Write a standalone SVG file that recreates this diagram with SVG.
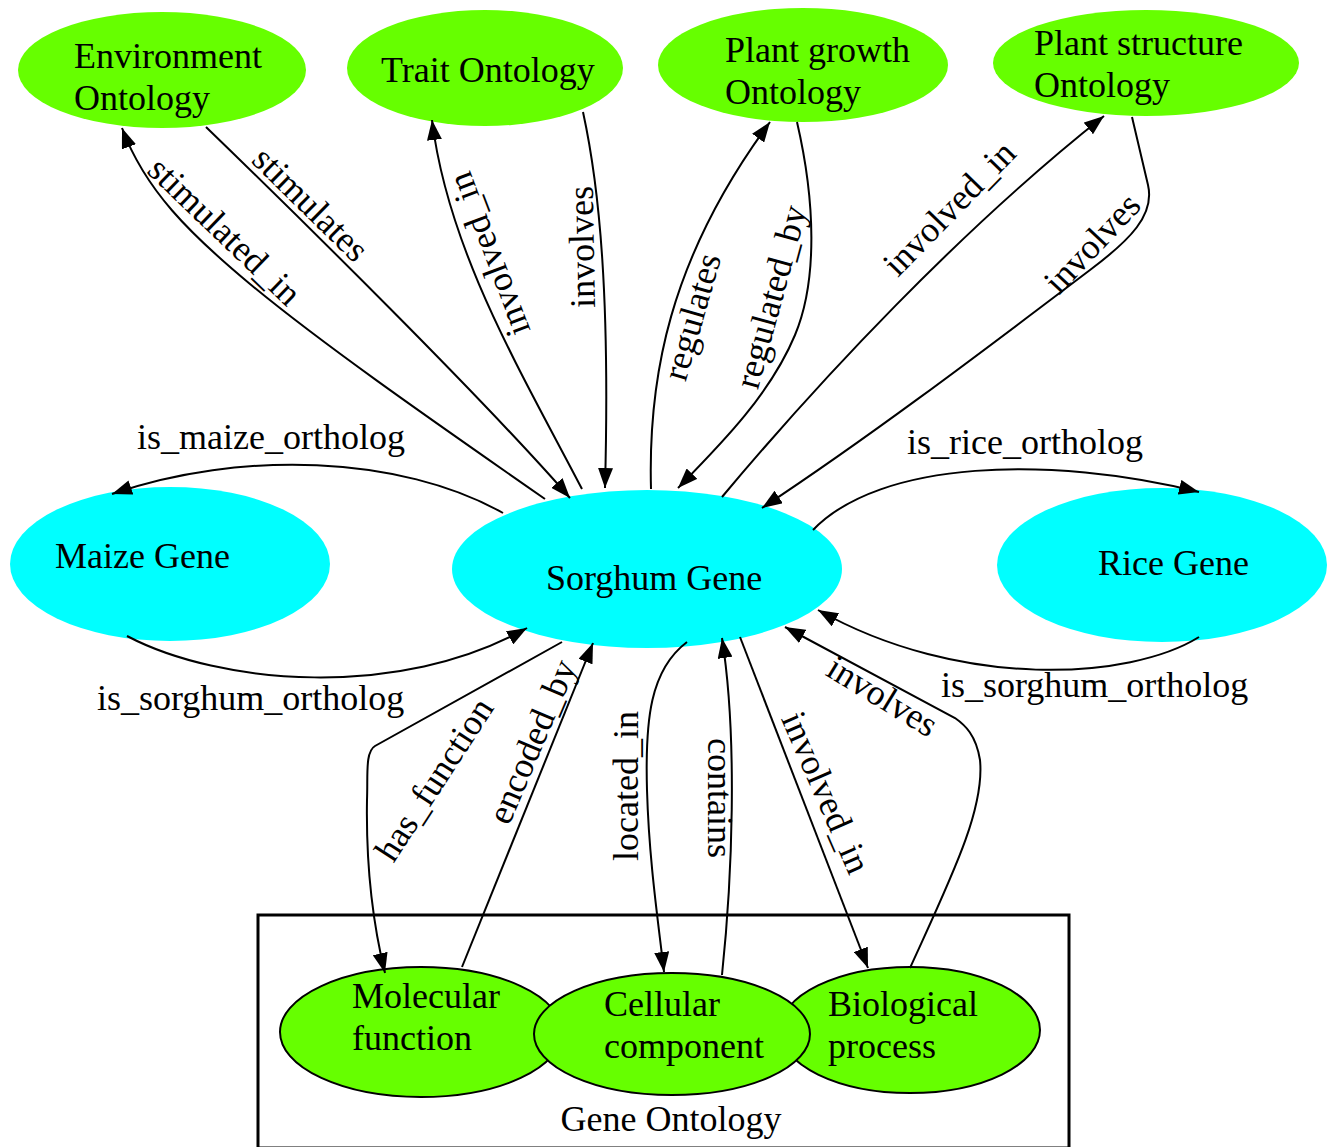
<svg xmlns="http://www.w3.org/2000/svg" width="1332" height="1147" viewBox="0 0 1332 1147">
<style>
  .t { font-family: "Liberation Serif", "Times New Roman", serif; font-size: 36px; fill: #000; }
  .m { text-anchor: middle; }
  .go { fill: #66ff00; }
  .gob { fill: #66ff00; stroke: #000; stroke-width: 2; }
  .gene { fill: #00ffff; }
  .e { fill: none; stroke: #000; stroke-width: 2; marker-end: url(#ah); }
  .box { fill: none; stroke: #000; stroke-width: 3; }
</style>
<defs>
  <marker id="ah" markerUnits="userSpaceOnUse" markerWidth="21" markerHeight="15" refX="20" refY="7.5" orient="auto">
    <path d="M0,0 L20,7.5 L0,15 z" fill="#000"/>
  </marker>
</defs>
<rect width="1332" height="1147" fill="#fff"/>

<g id="cluster_gene_ontology">
  <rect class="box" x="258" y="915" width="811" height="233"/>
  <text class="t m" x="671" y="1131">Gene Ontology</text>
</g>

<g id="node_environment">
  <ellipse class="go" cx="162" cy="70" rx="144" ry="58"/>
  <text class="t" x="74" y="68">Environment</text>
  <text class="t" x="74" y="110">Ontology</text>
</g>
<g id="node_trait">
  <ellipse class="go" cx="485" cy="68" rx="138" ry="58"/>
  <text class="t" x="381" y="82">Trait Ontology</text>
</g>
<g id="node_plant_growth">
  <ellipse class="go" cx="803" cy="65" rx="145" ry="57"/>
  <text class="t" x="725" y="62">Plant growth</text>
  <text class="t" x="725" y="104">Ontology</text>
</g>
<g id="node_plant_structure">
  <ellipse class="go" cx="1146" cy="63" rx="153" ry="53"/>
  <text class="t" x="1034" y="55">Plant structure</text>
  <text class="t" x="1034" y="97">Ontology</text>
</g>
<g id="node_maize">
  <ellipse class="gene" cx="170" cy="564" rx="160" ry="77"/>
  <text class="t" x="55" y="568">Maize Gene</text>
</g>
<g id="node_sorghum">
  <ellipse class="gene" cx="647" cy="569" rx="195" ry="79"/>
  <text class="t" x="546" y="590">Sorghum Gene</text>
</g>
<g id="node_rice">
  <ellipse class="gene" cx="1162" cy="565" rx="165" ry="77"/>
  <text class="t" x="1098" y="575">Rice Gene</text>
</g>
<g id="node_molecular">
  <ellipse class="gob" cx="421" cy="1032" rx="141" ry="65"/>
  <text class="t" x="352" y="1008">Molecular</text>
  <text class="t" x="352" y="1050">function</text>
</g>
<g id="node_biological">
  <ellipse class="gob" cx="910" cy="1030" rx="130" ry="63"/>
  <text class="t" x="828" y="1016">Biological</text>
  <text class="t" x="828" y="1058">process</text>
</g>
<g id="node_cellular">
  <ellipse class="gob" cx="672" cy="1034" rx="138" ry="61"/>
  <text class="t" x="604" y="1016">Cellular</text>
  <text class="t" x="604" y="1058">component</text>
</g>

<g id="connectors">
  <g id="e_stimulated_in">
    <path class="e" d="M545,499 C420,412 320,342 250,284 C190,234 145,190 122,128"/>
    <text class="t m" dy="0.3em" transform="translate(224,232) rotate(43.8)">stimulated_in</text>
  </g>
  <g id="e_stimulates">
    <path class="e" d="M206,127 C300,218 480,395 570,498"/>
    <text class="t m" dy="0.3em" transform="translate(310,205) rotate(44.5)">stimulates</text>
  </g>
  <g id="e_trait_involved_in">
    <path class="e" d="M582,489 C520,370 448,250 432,120"/>
    <text class="t m" dy="0.3em" transform="translate(490,254) rotate(-110.8)">involved_in</text>
  </g>
  <g id="e_trait_involves">
    <path class="e" d="M583,112 C600,190 610,300 605,488"/>
    <text class="t m" dy="0.3em" transform="translate(583,247) rotate(-91)">involves</text>
  </g>
  <g id="e_regulates">
    <path class="e" d="M651,489 C648,380 668,260 770,122"/>
    <text class="t m" dy="0.3em" transform="translate(693,317) rotate(-74)">regulates</text>
  </g>
  <g id="e_regulated_by">
    <path class="e" d="M797,122 C815,200 818,280 795,335 C770,395 720,445 678,488"/>
    <text class="t m" dy="0.3em" transform="translate(772,297) rotate(-74.8)">regulated_by</text>
  </g>
  <g id="e_ps_involved_in">
    <path class="e" d="M722,497 C820,380 960,230 1104,116"/>
    <text class="t m" dy="0.3em" transform="translate(950,209) rotate(-45.7)">involved_in</text>
  </g>
  <g id="e_ps_involves">
    <path class="e" d="M1132,117 L1148,185 C1155,215 1130,240 1090,270 C1000,338 880,430 762,508"/>
    <text class="t m" dy="0.3em" transform="translate(1093,244) rotate(-46.8)">involves</text>
  </g>
  <g id="e_is_maize_ortholog">
    <path class="e" d="M503,513 C400,455 240,450 112,494"/>
    <text class="t" x="137" y="449">is_maize_ortholog</text>
  </g>
  <g id="e_maize_is_sorghum_ortholog">
    <path class="e" d="M127,636 C220,685 400,700 527,628"/>
    <text class="t" x="97" y="710">is_sorghum_ortholog</text>
  </g>
  <g id="e_is_rice_ortholog">
    <path class="e" d="M813,530 C880,460 1050,455 1199,492"/>
    <text class="t" x="907" y="454">is_rice_ortholog</text>
  </g>
  <g id="e_rice_is_sorghum_ortholog">
    <path class="e" d="M1199,637 C1130,680 960,690 818,610"/>
    <text class="t" x="941" y="697">is_sorghum_ortholog</text>
  </g>
  <g id="e_has_function">
    <path class="e" d="M562,642 L375,746 C365,752 368,775 367,800 C366,860 372,920 385,973"/>
    <text class="t m" dy="0.3em" transform="translate(435,780) rotate(-57)">has_function</text>
  </g>
  <g id="e_encoded_by">
    <path class="e" d="M462,967 L593,643"/>
    <text class="t m" dy="0.3em" transform="translate(533,742) rotate(-67)">encoded_by</text>
  </g>
  <g id="e_located_in">
    <path class="e" d="M687,642 C650,670 645,720 647,790 C649,860 658,920 664,972"/>
    <text class="t m" dy="0.3em" transform="translate(627,786) rotate(-90)">located_in</text>
  </g>
  <g id="e_contains">
    <path class="e" d="M722,975 C732,880 738,740 722,638"/>
    <text class="t m" dy="0.3em" transform="translate(719,798) rotate(90)">contains</text>
  </g>
  <g id="e_bp_involved_in">
    <path class="e" d="M740,637 L868,968"/>
    <text class="t m" dy="0.3em" transform="translate(825,793) rotate(66.4)">involved_in</text>
  </g>
  <g id="e_bp_involves">
    <path class="e" d="M910,968 C950,880 985,810 980,760 C976,735 965,725 955,718 L785,627"/>
    <text class="t m" dy="0.3em" transform="translate(882,697) rotate(31.3)">involves</text>
  </g>
</g>
</svg>
